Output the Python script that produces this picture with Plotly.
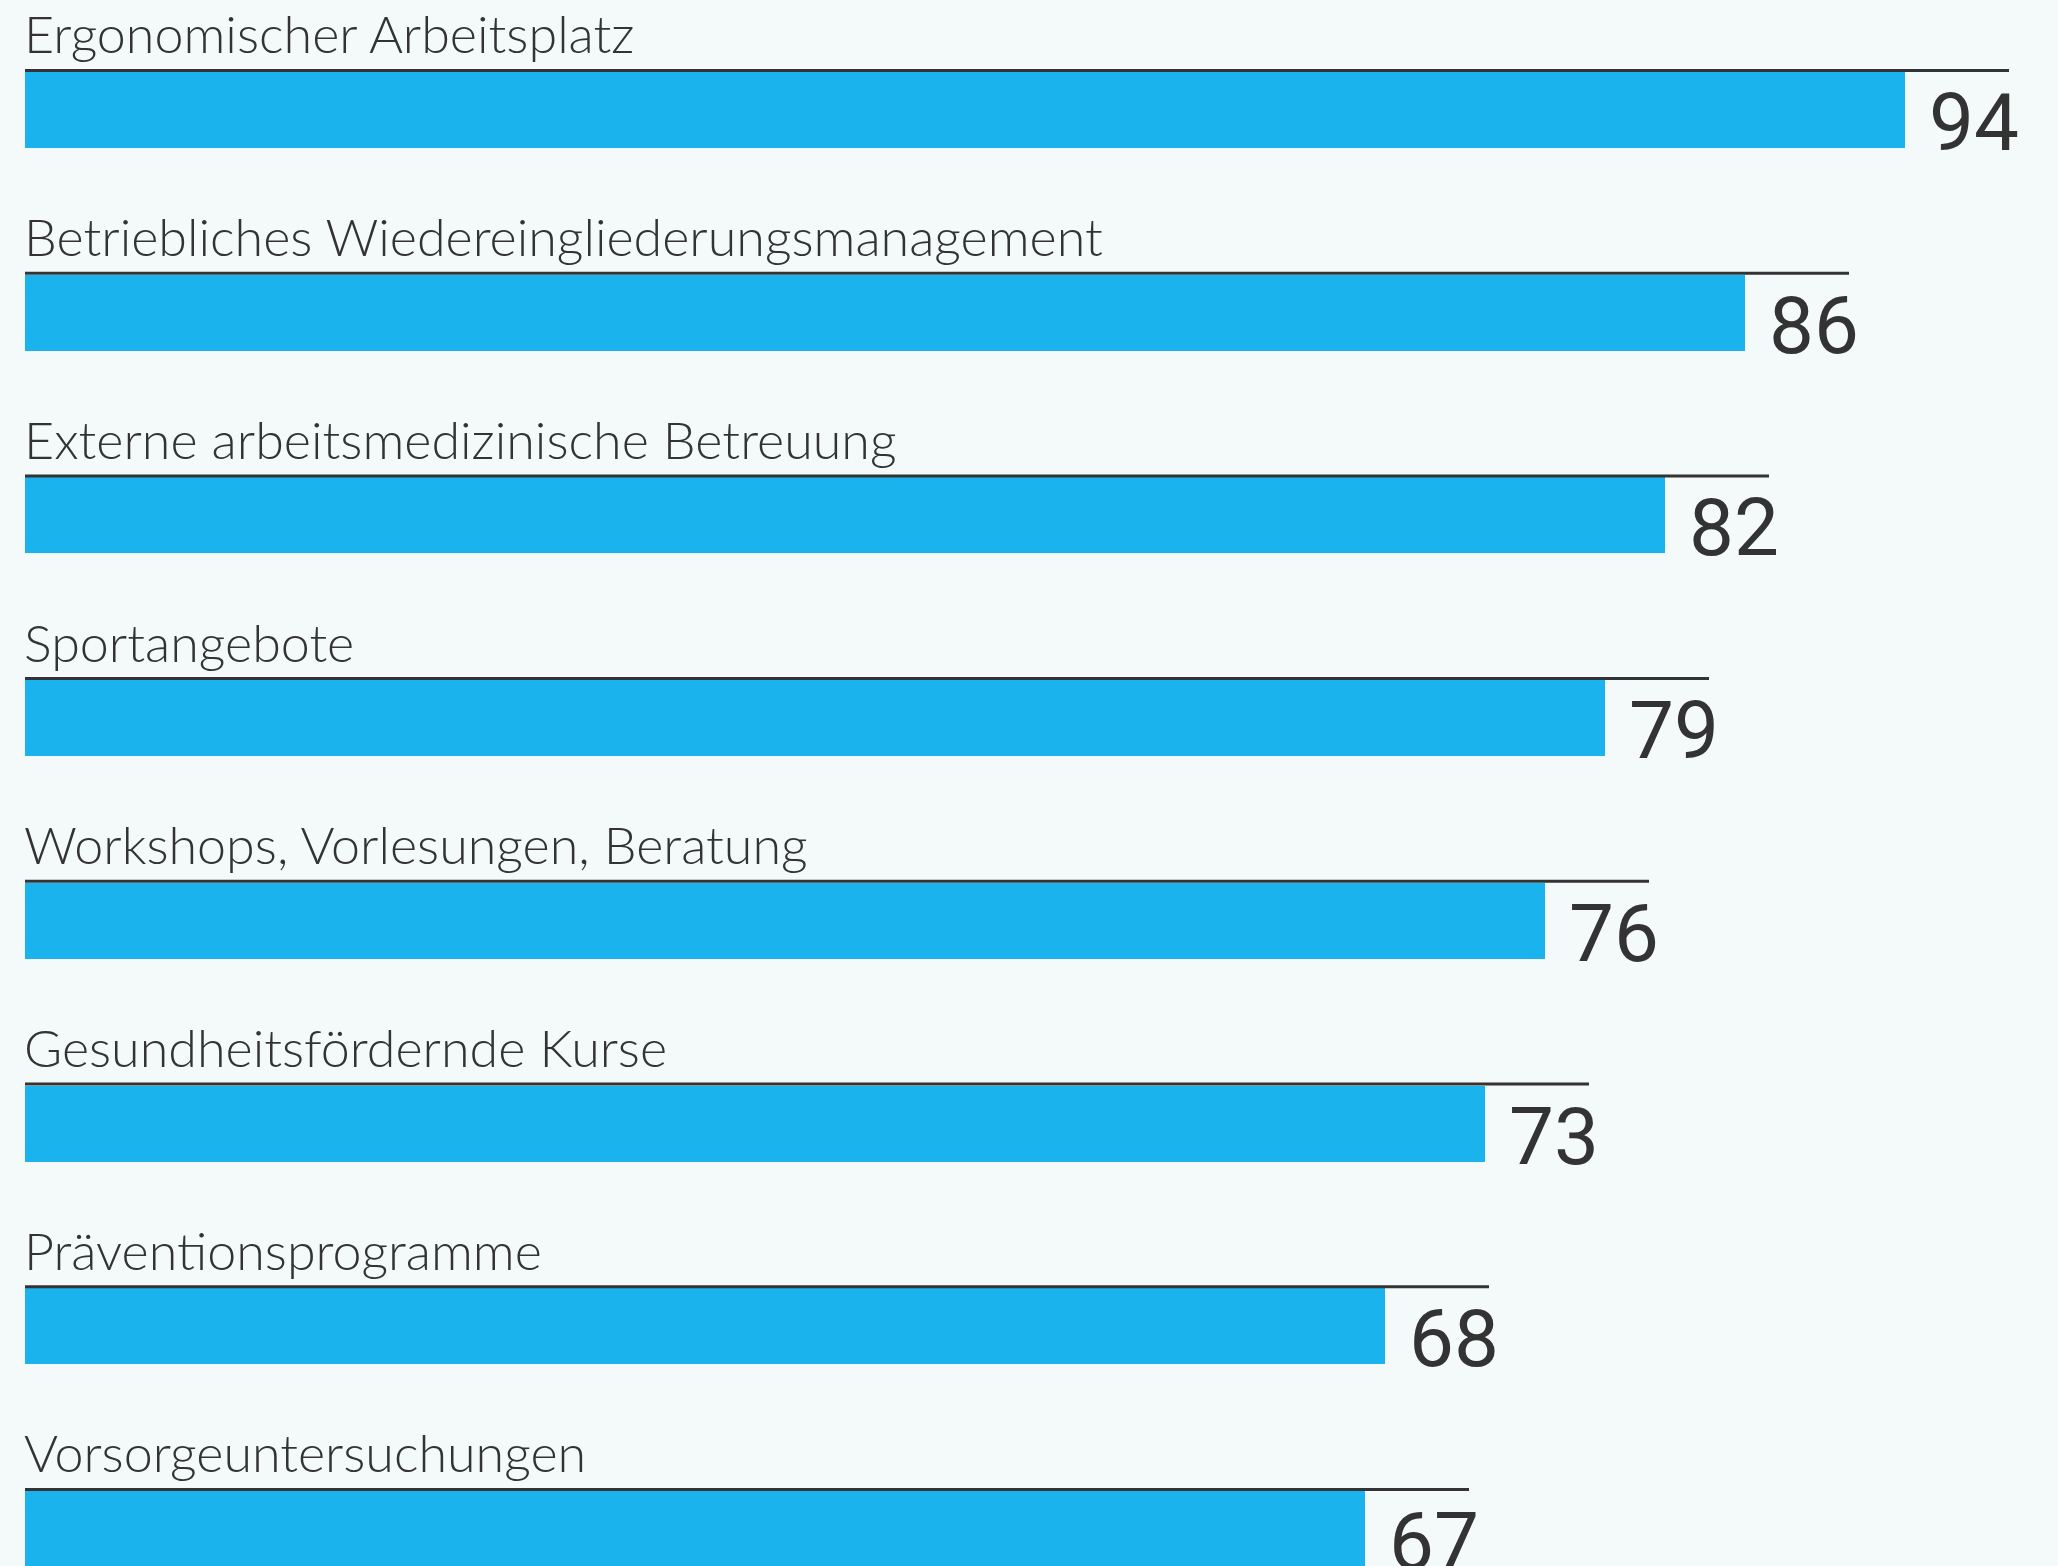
import plotly.graph_objects as go

categories = [
    "Ergonomischer Arbeitsplatz",
    "Betriebliches Wiedereingliederungsmanagement",
    "Externe arbeitsmedizinische Betreuung",
    "Sportangebote",
    "Workshops, Vorlesungen, Beratung",
    "Gesundheitsfördernde Kurse",
    "Präventionsprogramme",
    "Vorsorgeuntersuchungen",
]
values = [94, 86, 82, 79, 76, 73, 68, 67]

BAR_COLOR = "#1BB3EE"
BG = "#F4F9F9"
TEXT = "#333333"
W, H = 2058, 1566
LEFT = 25
PX_PER_UNIT = 20.0
ROW_PX = 202.7
TOP_CENTER_PX = 110
BAR_W = 76 / ROW_PX
EXTRA = 5.2  # line extension beyond bar (units)

pos = list(range(len(categories)))

fig = go.Figure()
fig.add_trace(go.Bar(
    x=values, y=pos, orientation="h", width=BAR_W,
    marker=dict(color=BAR_COLOR, line=dict(width=0)),
    hoverinfo="skip", showlegend=False,
))

shapes = []
annotations = []
for i, (c, v) in enumerate(zip(categories, values)):
    ytop = i - BAR_W / 2 - 1.5 / ROW_PX
    shapes.append(dict(type="line", xref="x", yref="y", x0=0, x1=v + EXTRA,
                       y0=ytop, y1=ytop, line=dict(color=TEXT, width=3), layer="above"))
    annotations.append(dict(x=0, y=ytop, xref="x", yref="y", text=c, showarrow=False,
                            xanchor="left", yanchor="bottom", xshift=-3, yshift=4,
                            font=dict(family="Lato", size=52, color=TEXT, weight=300)))
    annotations.append(dict(x=v, y=i, xref="x", yref="y", text=str(v), showarrow=False,
                            xanchor="left", yanchor="middle", xshift=22, yshift=-13,
                            font=dict(family="Roboto", size=80, color=TEXT)))

span = H / ROW_PX
ytop_val = -TOP_CENTER_PX / ROW_PX
fig.update_layout(
    width=W, height=H,
    margin=dict(l=LEFT, r=0, t=0, b=0, pad=0),
    paper_bgcolor=BG, plot_bgcolor=BG,
    xaxis=dict(range=[0, (W - LEFT) / PX_PER_UNIT], visible=False, fixedrange=True),
    yaxis=dict(range=[ytop_val + span, ytop_val], visible=False, fixedrange=True),
    shapes=shapes, annotations=annotations,
    bargap=0,
)
fig.write_html("out.html", config={"displayModeBar": False},
               post_script="document.body.style.margin='0';document.body.style.overflow='hidden';")
